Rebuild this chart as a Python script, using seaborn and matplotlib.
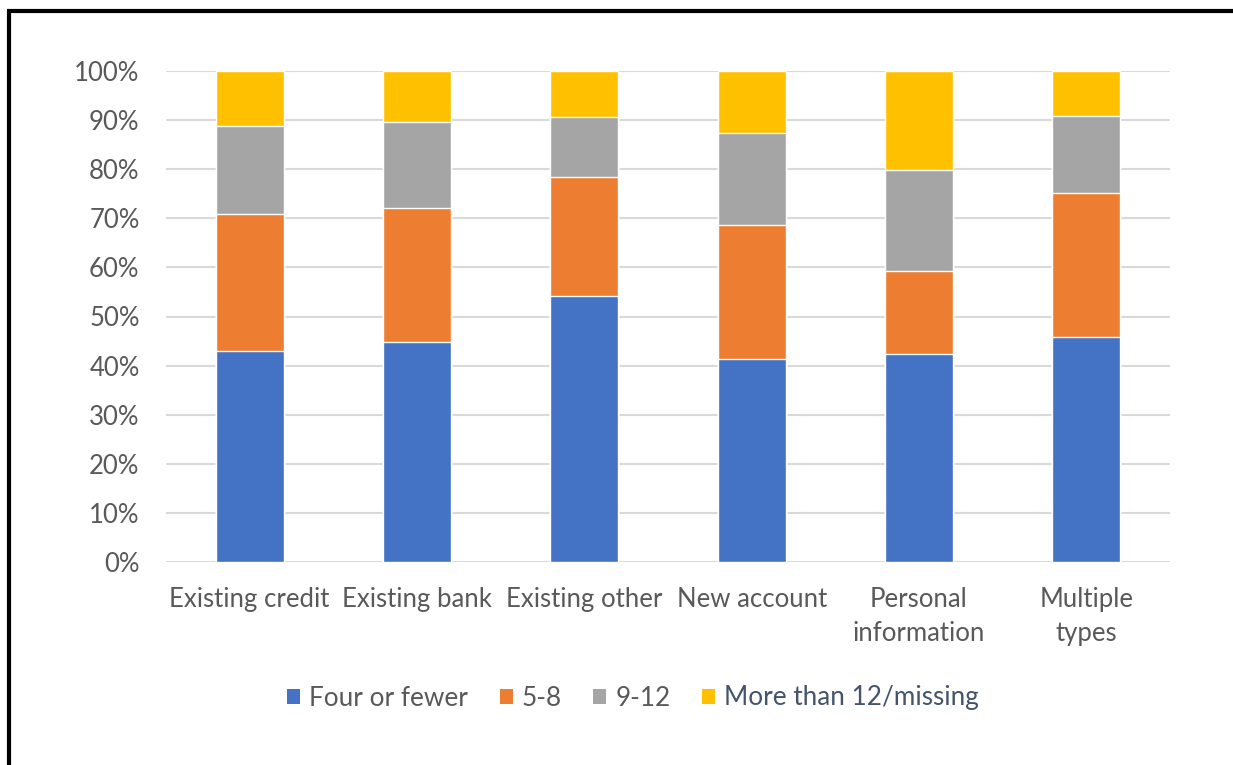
import matplotlib
matplotlib.use("Agg")
import matplotlib.pyplot as plt
import seaborn as sns
import pandas as pd
import numpy as np
from matplotlib.patches import Patch
from matplotlib.lines import Line2D
from matplotlib.ticker import PercentFormatter

categories = ["Existing credit", "Existing bank", "Existing other", "New account",
              "Personal\ninformation", "Multiple\ntypes"]
series_names = ["Four or fewer", "5-8", "9-12", "More than 12/missing"]
four_or_fewer = [43.0, 44.8, 54.2, 41.3, 42.4, 45.8]
five_to_eight = [27.8, 27.3, 24.2, 27.3, 16.9, 29.4]
nine_to_twelve = [17.9, 17.6, 12.2, 18.8, 20.6, 15.7]
more_than_12 = [11.3, 10.3, 9.4, 12.6, 20.1, 9.1]
colors = ["#4472C4", "#ED7D31", "#A5A5A5", "#FFC000"]

sns.set_theme(style="white")
plt.rcParams['font.family'] = ['Lato', 'DejaVu Sans']

fig = plt.figure(figsize=(12.33, 7.65), dpi=100)
ax = fig.add_axes([166/1233, 1-562/765, (1170-166)/1233, (562-71)/765])

vals = np.array([four_or_fewer, five_to_eight, nine_to_twelve, more_than_12])
cum = np.cumsum(vals, axis=0)
cum = cum / cum[-1:] * 100

for i in range(3, -1, -1):
    df = pd.DataFrame({"cat": categories, "val": cum[i]})
    sns.barplot(data=df, x="cat", y="val", color=colors[i], width=0.405,
                saturation=1, ax=ax, zorder=3)

ax.set_ylim(0, 100)
ax.set_xlim(-0.5, 5.5)
ax.set_yticks(np.arange(0, 101, 10))
ax.yaxis.set_major_formatter(PercentFormatter(decimals=0))
ax.grid(axis="y", color="#D9D9D9", linewidth=1.5, zorder=0)
ax.set_axisbelow(True)
for s in ax.spines.values():
    s.set_visible(False)
ax.set_xlabel("")
ax.set_ylabel("")
ax.tick_params(axis="both", length=0, labelsize=18.5, labelcolor="#595959")
ax.tick_params(axis="y", pad=19)
ax.tick_params(axis="x", pad=18)
for lab in ax.get_xticklabels():
    lab.set_linespacing(1.45)

handles = [Patch(facecolor=c, edgecolor="none") for c in colors]
leg = fig.legend(handles, series_names, loc="center", bbox_to_anchor=(633/1233, 1-698/765),
                 ncol=4, frameon=False, fontsize=18.8, handlelength=0.5, handleheight=0.5,
                 handletextpad=0.35, columnspacing=1.2)
for t, c in zip(leg.get_texts(), ["#595959", "#595959", "#595959", "#44546A"]):
    t.set_color(c)

fig.add_artist(Line2D([9/1233, 9/1233], [0, 1-9.5/765], color="black", linewidth=3,
                      solid_capstyle="butt", transform=fig.transFigure))
fig.add_artist(Line2D([7/1233, 1], [1-11/765, 1-11/765], color="black", linewidth=3,
                      solid_capstyle="butt", transform=fig.transFigure))

fig.savefig("out.png", dpi=100, facecolor="white")
